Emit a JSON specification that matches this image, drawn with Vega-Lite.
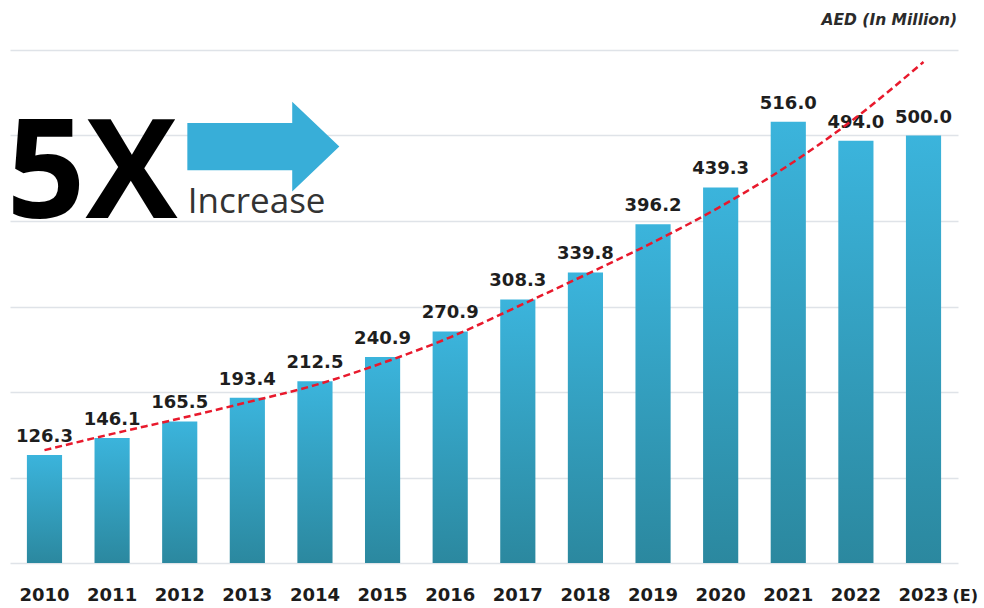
{
  "$schema": "https://vega.github.io/schema/vega-lite/v6.json",
  "width": 948,
  "height": 513,
  "autosize": {"type": "none"},
  "padding": {"left": 10, "top": 50, "right": 26, "bottom": 45},
  "background": "white",
  "config": {"view": {"stroke": null}},
  "title": {
    "text": "AED (In Million)",
    "anchor": "end",
    "font": "DejaVu Sans",
    "fontSize": 15.5,
    "fontStyle": "italic",
    "fontWeight": "bold",
    "color": "#2b2b2b",
    "offset": 22,
    "dx": -21
  },
  "datasets": {
    "main": [
      {"year": "2010", "value": 126.3, "trend": 132},
      {"year": "2011", "value": 146.1, "trend": 151},
      {"year": "2012", "value": 165.5, "trend": 169},
      {"year": "2013", "value": 193.4, "trend": 188},
      {"year": "2014", "value": 212.5, "trend": 208},
      {"year": "2015", "value": 240.9, "trend": 234},
      {"year": "2016", "value": 270.9, "trend": 264},
      {"year": "2017", "value": 308.3, "trend": 300},
      {"year": "2018", "value": 339.8, "trend": 337},
      {"year": "2019", "value": 396.2, "trend": 375},
      {"year": "2020", "value": 439.3, "trend": 417},
      {"year": "2021", "value": 516.0, "trend": 465},
      {"year": "2022", "value": 494.0, "trend": 521},
      {"year": "2023", "value": 500.0, "trend": 586}
    ],
    "big": [{"year": "2010", "value": 403, "label": "5X"}],
    "word": [{"year": "2012", "value": 409, "label": "Increase"}],
    "arrow": [{"year": "2013", "value": 487}],
    "est": [{"year": "2023", "value": 0, "label": "(E)"}]
  },
  "encoding": {
    "x": {
      "field": "year",
      "type": "nominal",
      "sort": null,
      "scale": {"paddingInner": 0.48, "paddingOuter": 0.25},
      "axis": {
        "title": null,
        "domain": false,
        "ticks": false,
        "labelAngle": 0,
        "labelFont": "DejaVu Sans",
        "labelFontWeight": "bold",
        "labelFontSize": 18,
        "labelColor": "#1c1c1c",
        "labelPadding": 23
      }
    }
  },
  "layer": [
    {
      "data": {"name": "main"},
      "mark": {
        "type": "bar",
        "color": {
          "gradient": "linear",
          "x1": 0, "y1": 0, "x2": 0, "y2": 1,
          "stops": [
            {"offset": 0, "color": "#3bb4dc"},
            {"offset": 1, "color": "#2b889f"}
          ]
        }
      },
      "encoding": {
        "y": {
          "field": "value",
          "type": "quantitative",
          "scale": {"domain": [0, 600], "nice": false, "zero": true},
          "axis": {
            "title": null,
            "labels": false,
            "ticks": false,
            "domain": false,
            "values": [0, 100, 200, 300, 400, 500, 600],
            "grid": true,
            "gridColor": "#dfe3e8",
            "gridWidth": 1.5
          }
        }
      }
    },
    {
      "data": {"name": "main"},
      "mark": {
        "type": "text",
        "font": "DejaVu Sans",
        "fontWeight": "bold",
        "fontSize": 18,
        "color": "#1e1e1e",
        "baseline": "alphabetic",
        "dy": -13
      },
      "encoding": {
        "y": {"field": "value", "type": "quantitative"},
        "text": {"field": "value", "type": "quantitative", "format": ".1f"}
      }
    },
    {
      "data": {"name": "main"},
      "mark": {
        "type": "line",
        "color": "#e8192c",
        "strokeWidth": 2.5,
        "strokeDash": [7, 4],
        "interpolate": "monotone"
      },
      "encoding": {
        "y": {"field": "trend", "type": "quantitative"}
      }
    },
    {
      "data": {"name": "big"},
      "mark": {
        "type": "text",
        "font": "Open Sans",
        "fontWeight": "bold",
        "fontSize": 138,
        "color": "#000000",
        "align": "left",
        "baseline": "alphabetic",
        "dx": -38
      },
      "encoding": {
        "y": {"field": "value", "type": "quantitative"},
        "text": {"field": "label"}
      }
    },
    {
      "data": {"name": "word"},
      "mark": {
        "type": "text",
        "font": "Open Sans",
        "fontSize": 35,
        "color": "#333333",
        "align": "left",
        "baseline": "alphabetic",
        "dx": 8
      },
      "encoding": {
        "y": {"field": "value", "type": "quantitative"},
        "text": {"field": "label"}
      }
    },
    {
      "data": {"name": "arrow"},
      "mark": {
        "type": "point",
        "filled": true,
        "opacity": 1,
        "color": "#38aed8",
        "size": 23104,
        "xOffset": 16,
        "shape": "M-1,-0.31 L0.38,-0.31 L0.38,-0.59 L1,0 L0.38,0.59 L0.38,0.31 L-1,0.31 Z"
      },
      "encoding": {
        "y": {"field": "value", "type": "quantitative"}
      }
    },
    {
      "data": {"name": "est"},
      "mark": {
        "type": "text",
        "font": "DejaVu Sans",
        "fontWeight": "bold",
        "fontSize": 16,
        "color": "#1c1c1c",
        "align": "left",
        "baseline": "alphabetic",
        "dx": 29,
        "dy": 38
      },
      "encoding": {
        "y": {"field": "value", "type": "quantitative"},
        "text": {"field": "label"}
      }
    }
  ]
}
